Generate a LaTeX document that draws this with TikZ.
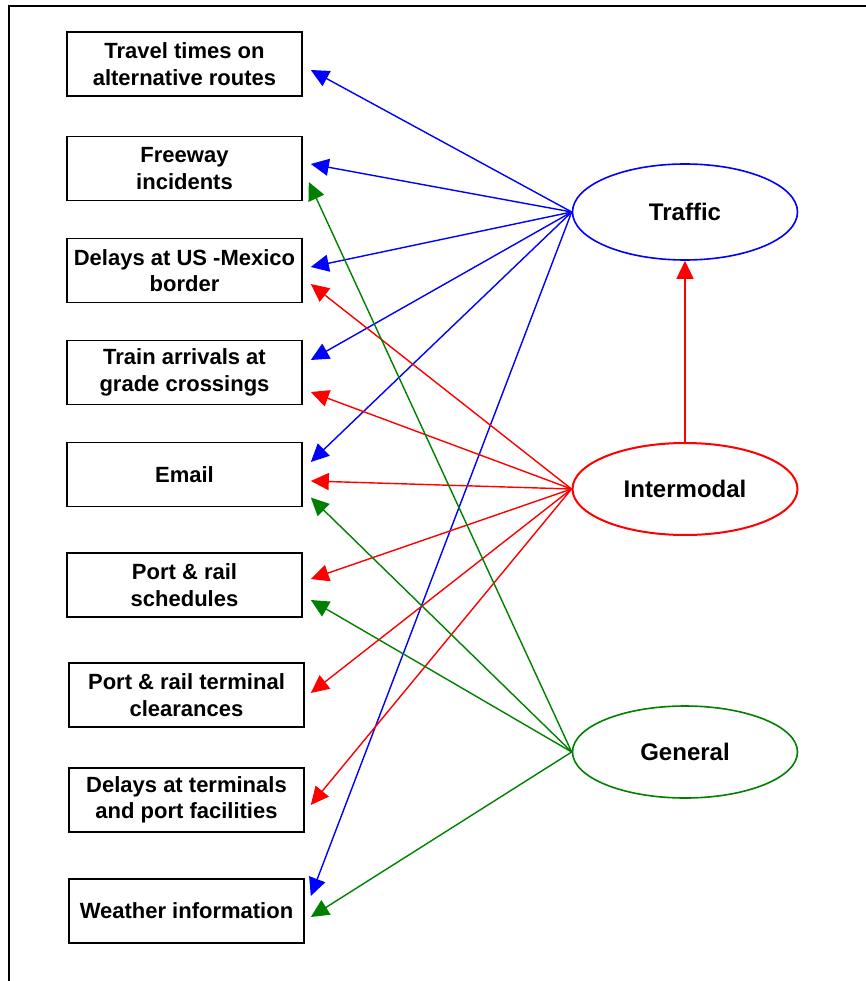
\documentclass[tikz,border=0pt]{standalone}
\usepackage{fontspec}
\setmainfont{Liberation Sans}
\usetikzlibrary{arrows.meta,shapes.geometric}
\definecolor{tblue}{RGB}{0,0,255}
\definecolor{tred}{RGB}{255,0,0}
\definecolor{tgreen}{RGB}{0,128,0}
\begin{document}
\begin{tikzpicture}[x=1pt,y=-1pt,
  box/.style={draw=black,line width=1.6pt,minimum width=235pt,minimum height=64pt,inner sep=0pt,align=center,
    font=\fontsize{22}{26.5}\selectfont\bfseries},
  oval/.style={ellipse,minimum width=225pt,inner sep=0pt,font=\fontsize{24}{28}\selectfont\bfseries},
  arr/.style={line width=1.4pt,-{Triangle[length=18pt,width=17pt]}},
  tr/.style={arr,draw=tblue,fill=tblue},
  im/.style={arr,draw=tred,fill=tred},
  ge/.style={arr,draw=tgreen,fill=tgreen}]
\useasboundingbox (0,0) rectangle (866,981);
% frame
\coordinate (fa) at (9,981);
\coordinate (fb) at (9,6);
\coordinate (fc) at (866,6);
\draw[line width=2.2pt,line cap=rect] (fa) -- (fb) -- (fc);
% boxes
\node[box] (b1) at (184.5,64) {Travel times on\\alternative routes};
\node[box] (b2) at (184.5,168.5) {Freeway\\incidents};
\node[box] (b3) at (184.5,270.5) {Delays at US -Mexico\\border};
\node[box] (b4) at (184.5,372.5) {Train arrivals at\\grade crossings};
\node[box] (b5) at (184.5,474.5) {Email};
\node[box] (b6) at (184.5,585) {Port \& rail\\schedules};
\node[box] (b7) at (186.5,695) {Port \& rail terminal\\clearances};
\node[box] (b8) at (186.5,800) {Delays at terminals\\and port facilities};
\node[box] (b9) at (186.5,911) {Weather information};
% ellipses
\node[oval,draw=tblue,line width=1.6pt,minimum height=96pt] (traffic) at (685,212) {Traffic};
\node[oval,draw=tred,line width=2pt,minimum height=92pt] (inter) at (685,489) {Intermodal};
\node[oval,draw=tgreen,line width=1.6pt,minimum height=92pt] (gen) at (685,752) {General};
% traffic arrows
\draw[tr] (traffic.west) -- ([shift={(8,6)}]b1.east);
\draw[tr] (traffic.west) -- ([shift={(8,-4.5)}]b2.east);
\draw[tr] (traffic.west) -- ([shift={(8,-3.5)}]b3.east);
\draw[tr] (traffic.west) -- ([shift={(8,-12.5)}]b4.east);
\draw[tr] (traffic.west) -- ([shift={(8,-12.5)}]b5.east);
\draw[tr] (traffic.west) -- ([shift={(6,-15)}]b9.east);
% intermodal arrows
\draw[im] (inter.west) -- ([shift={(8,13.5)}]b3.east);
\draw[im] (inter.west) -- ([shift={(8,19.5)}]b4.east);
\draw[im] (inter.west) -- ([shift={(8,6.5)}]b5.east);
\draw[im] (inter.west) -- ([shift={(8,-6)}]b6.east);
\draw[im] (inter.west) -- ([shift={(6,-2)}]b7.east);
\draw[im] (inter.west) -- ([shift={(6,5)}]b8.east);
\draw[im] (inter.north) -- (traffic.south);
% general arrows
\draw[ge] (gen.west) -- ([shift={(6,13.5)}]b2.east);
\draw[ge] (gen.west) -- ([shift={(8,23)}]b5.east);
\draw[ge] (gen.west) -- ([shift={(8,15)}]b6.east);
\draw[ge] (gen.west) -- ([shift={(6,6)}]b9.east);
\end{tikzpicture}
\end{document}
